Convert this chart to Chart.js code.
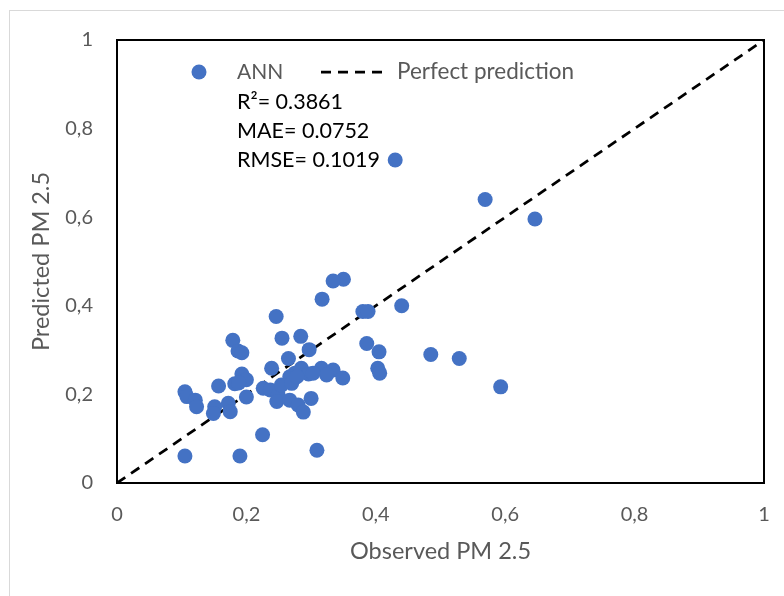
<!DOCTYPE html>
<html><head><meta charset="utf-8">
<script src="https://cdn.jsdelivr.net/npm/chart.js@4/dist/chart.umd.min.js"></script>
<style>html,body{margin:0;padding:0;background:#fff;}#wrap{width:784px;height:596px;}</style>
</head><body><div id="wrap"><canvas id="c" width="784" height="596"></canvas></div>
<script>
// ---- data ----
const observed = [0.430,0.569,0.646,0.350,0.334,0.317,0.440,0.380,0.388,0.246,
  0.179,0.187,0.193,0.255,0.284,0.297,0.386,0.405,0.265,0.239,
  0.403,0.406,0.285,0.316,0.334,0.349,0.296,0.275,0.267,0.324,
  0.193,0.200,0.182,0.157,0.188,0.226,0.237,0.249,0.254,0.270,
  0.278,0.200,0.247,0.267,0.280,0.288,0.300,0.105,0.108,0.121,
  0.123,0.151,0.149,0.172,0.175,0.225,0.105,0.190,0.309,0.485,
  0.529,0.593,0.303];
const predicted = [0.729,0.640,0.596,0.460,0.456,0.415,0.400,0.387,0.387,0.376,
  0.322,0.298,0.294,0.327,0.331,0.301,0.315,0.296,0.281,0.259,
  0.259,0.248,0.259,0.259,0.255,0.237,0.246,0.248,0.240,0.244,
  0.246,0.233,0.224,0.219,0.226,0.214,0.210,0.199,0.221,0.225,
  0.240,0.194,0.184,0.187,0.176,0.160,0.191,0.206,0.195,0.187,
  0.172,0.172,0.157,0.180,0.161,0.109,0.061,0.061,0.074,0.290,
  0.281,0.217,0.248];
const perfectX = [0, 1];
const perfectY = [0, 1];
const tickValues = [0, 0.2, 0.4, 0.6, 0.8, 1];
const tickLabels = ['0', '0,2', '0,4', '0,6', '0,8', '1'];
const seriesNames = ['ANN', 'Perfect prediction'];
const statLines = ['R\u00B2= 0.3861', 'MAE= 0.0752', 'RMSE= 0.1019'];
const xTitle = 'Observed PM 2.5';
const yTitle = 'Predicted PM 2.5';

// ---- styles ----
const FONT = 'Lato, "Open Sans", sans-serif';
const GRAY = '#595959';
const BLUE = '#4472C4';

const annPoints = observed.map((x, i) => ({x: x, y: predicted[i]}));
const perfectPoints = perfectX.map((x, i) => ({x: x, y: perfectY[i]}));

const tickCb = function(value) {
  const i = tickValues.findIndex(v => Math.abs(v - value) < 1e-9);
  return i >= 0 ? tickLabels[i] : '';
};

const decor = {
  id: 'decor',
  beforeDraw(chart) {
    const ctx = chart.ctx;
    ctx.save();
    ctx.fillStyle = '#fff';
    ctx.fillRect(0, 0, chart.width, chart.height);
    ctx.strokeStyle = '#d9d9d9';
    ctx.lineWidth = 1;
    ctx.strokeRect(9.5, 10.5, 800, 600);
    ctx.restore();
  },
  beforeDatasetsDraw(chart) {
    const ctx = chart.ctx, a = chart.chartArea;
    ctx.save();
    ctx.strokeStyle = '#000';
    ctx.lineWidth = 2;
    ctx.strokeRect(a.left, a.top, a.right - a.left, a.bottom - a.top);
    ctx.restore();
  },
  afterDraw(chart) {
    const ctx = chart.ctx, a = chart.chartArea;
    const ds0 = chart.data.datasets[0], ds1 = chart.data.datasets[1];
    const ly = a.top + 32;
    ctx.save();
    ctx.fillStyle = ds0.backgroundColor;
    ctx.beginPath();
    ctx.arc(a.left + 82, ly, ds0.pointRadius, 0, Math.PI * 2);
    ctx.fill();
    ctx.font = '21px ' + FONT;
    ctx.fillStyle = GRAY;
    ctx.textBaseline = 'middle';
    ctx.textAlign = 'left';
    ctx.fillText(seriesNames[0], a.left + 120, ly);
    ctx.strokeStyle = ds1.borderColor;
    ctx.lineWidth = ds1.borderWidth;
    ctx.setLineDash(ds1.borderDash);
    ctx.beginPath();
    ctx.moveTo(a.left + 204, ly);
    ctx.lineTo(a.left + 266, ly);
    ctx.stroke();
    ctx.setLineDash([]);
    ctx.font = '22.5px ' + FONT;
    ctx.fillText(seriesNames[1], a.left + 280, ly);
    ctx.fillStyle = '#000';
    ctx.font = '21.5px ' + FONT;
    statLines.forEach((t, i) => ctx.fillText(t, a.left + 120, a.top + 62 + i * 29));
    ctx.restore();
  }
};

new Chart(document.getElementById('c'), {
  type: 'scatter',
  data: {
    datasets: [
      {label: seriesNames[0], data: annPoints, backgroundColor: BLUE, borderColor: BLUE,
       borderWidth: 0, pointRadius: 7.5, pointHoverRadius: 7.5, order: 1},
      {label: seriesNames[1], type: 'line', data: perfectPoints, borderColor: '#000',
       borderWidth: 2.75, borderDash: [10, 7], pointRadius: 0, fill: false, order: 2}
    ]
  },
  options: {
    responsive: false,
    animation: false,
    devicePixelRatio: 1,
    layout: {padding: {left: 0, right: 20, top: 40, bottom: 0}},
    plugins: {legend: {display: false}, tooltip: {enabled: false}},
    scales: {
      x: {
        type: 'linear', min: 0, max: 1,
        afterBuildTicks: s => { s.ticks = tickValues.map(v => ({value: v})); },
        afterFit: s => { s.height = 113; s.paddingLeft = 0; s.paddingRight = 0; },
        grid: {display: false, drawTicks: false},
        border: {display: false},
        ticks: {callback: tickCb, color: GRAY, font: {family: FONT, size: 20}, padding: 20, maxRotation: 0},
        title: {display: true, text: xTitle, color: GRAY, font: {family: FONT, size: 23.5}, padding: {top: 0, bottom: 30}}
      },
      y: {
        type: 'linear', min: 0, max: 1,
        afterBuildTicks: s => { s.ticks = tickValues.map(v => ({value: v})); },
        afterFit: s => { s.width = 117; },
        grid: {display: false, drawTicks: false},
        border: {display: false},
        ticks: {callback: tickCb, color: GRAY, font: {family: FONT, size: 20}, padding: 24},
        title: {display: true, text: yTitle, color: GRAY, font: {family: FONT, size: 23.5}, padding: {top: 27, bottom: 0}}
      }
    }
  },
  plugins: [decor]
});
</script>
</body></html>
